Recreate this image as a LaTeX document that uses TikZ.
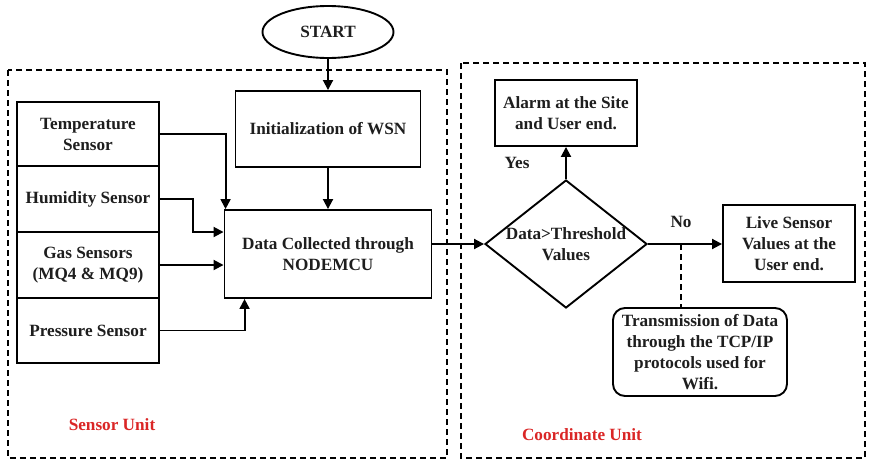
\documentclass[tikz,border=0pt]{standalone}
\usepackage{fontspec}
\setmainfont{Liberation Serif}
\usetikzlibrary{shapes.geometric,arrows.meta}
\definecolor{ink}{RGB}{30,30,30}
\definecolor{unitred}{RGB}{218,38,38}
\begin{document}
\begin{tikzpicture}[x=1pt,y=-1pt,
  every node/.style={font=\fontsize{17.2}{21}\selectfont\bfseries, text=ink, align=center},
  box/.style={draw, line width=1.9pt, inner sep=0pt},
  arr/.style={line width=1.9pt, -{Triangle[length=10pt,width=10pt]}},
  unit/.style={draw, line width=1.9pt, dash pattern=on 6pt off 4pt},
  unitlabel/.style={text=unitred}]
\useasboundingbox (0,0) rectangle (869,461);

% group frames
\draw[unit] (8,70) rectangle (447,458);
\draw[unit] (461,63) rectangle (865,458);
\node[unitlabel] (sensorunit) at (112,425) {Sensor Unit};
\node[unitlabel] (coordunit) at (582,435) {Coordinate Unit};

% sensor unit
\node[ellipse, draw, line width=1.9pt, minimum width=131pt, minimum height=52pt, inner sep=0pt] (start) at (328,32) {START};
\node[box, minimum width=185pt, minimum height=76pt] (init) at (328,129) {Initialization of WSN};
\node[box, minimum width=207pt, minimum height=88pt] (data) at (328,254) {Data Collected through\\NODEMCU};

\node[box, minimum width=142pt, minimum height=64pt] (temp) at (88,134) {Temperature\\Sensor};
\node[box, minimum width=142pt, minimum height=66pt] (hum) at (88,199) {Humidity Sensor};
\node[box, minimum width=142pt, minimum height=66pt] (gas) at (88,265) {Gas Sensors\\(MQ4 \& MQ9)};
\node[box, minimum width=142pt, minimum height=65pt] (pres) at (88,330.5) {Pressure Sensor};

\draw[arr] (start) -- (init);
\draw[arr] (init) -- (data);
\draw[arr] (temp.east) -| ([xshift=2pt]data.north west);
\draw[arr] (hum.east) -- ++(33,0) |- ([yshift=22pt]data.west);
\draw[arr] (gas.east) -- (gas.east -| data.west);
\draw[arr] (pres.east) -| ([xshift=21pt]data.south west);

% coordinate unit
\node[diamond, draw, line width=1.9pt, minimum width=162pt, minimum height=128pt, inner sep=0pt] (dia) at (566,244) {};
\node (diatext) at (dia.center) {Data>Threshold\\Values};
\node[box, minimum width=142pt, minimum height=66pt] (alarm) at (566,113) {Alarm at the Site\\and User end.};
\node[box, minimum width=132pt, minimum height=77pt] (live) at (789,243.5) {Live Sensor\\Values at the\\User end.};
\node[draw, line width=1.9pt, rounded corners=12pt, minimum width=174pt, minimum height=88pt, inner sep=0pt] (trans) at (700,352) {Transmission of Data\\through the TCP/IP\\protocols used for\\Wifi.};

\draw[arr] (data.east |- dia.west) -- (dia.west);
\draw[arr] (dia.north) -- (alarm.south);
\draw[arr] (dia.east) -- (dia.east -| live.west);
\coordinate (tap) at (681,244);
\draw[line width=1.9pt, dash pattern=on 6pt off 4pt] (tap) -- (tap |- trans.north);

\node (yes) at (517,163) {Yes};
\node (no) at (681,222) {No};
\end{tikzpicture}
\end{document}
